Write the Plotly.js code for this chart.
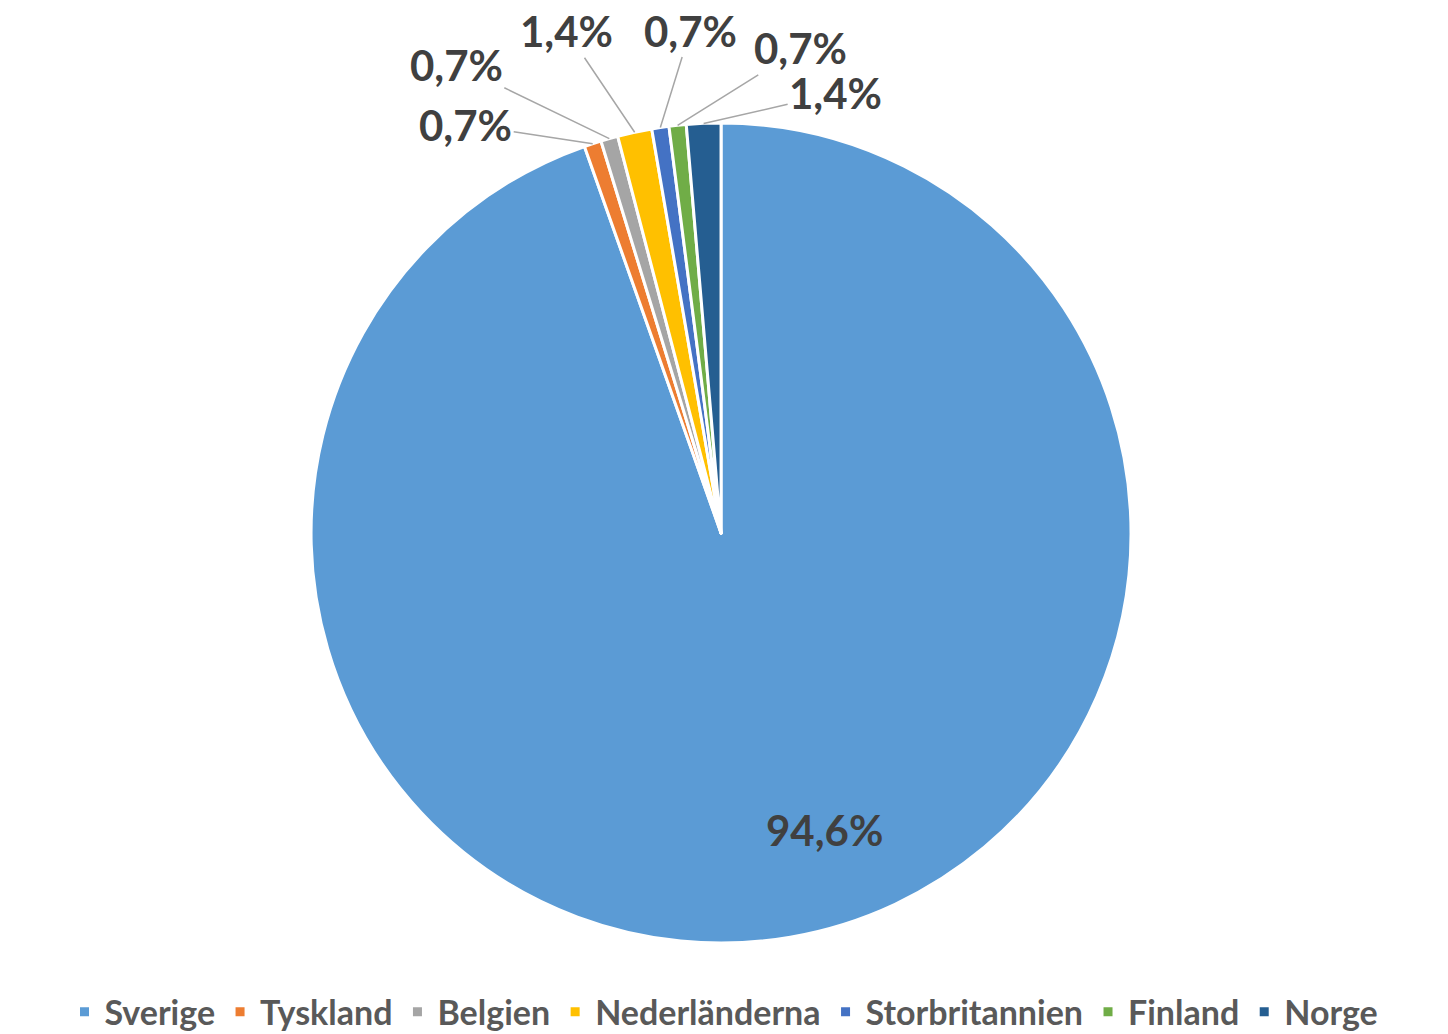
<!DOCTYPE html>
<html>
<head>
<meta charset="utf-8">
<script src="https://cdn.plot.ly/plotly-3.0.1.min.js"></script>
<style>html,body{margin:0;padding:0;background:#fff;}#chart{width:1448px;height:1034px;}</style>
</head>
<body>
<div id="chart"></div>
<script>
const countries = ['Sverige', 'Tyskland', 'Belgien', 'Nederländerna', 'Storbritannien', 'Finland', 'Norge'];
const counts = [140, 1, 1, 2, 1, 1, 2];
const colors = ['#5B9BD5', '#ED7D31', '#A5A5A5', '#FFC000', '#4472C4', '#70AD47', '#255E91'];
// label offsets (pixels) from each slice's rim midpoint, for the callout labels
const labelOffsetX = [50, -127, -153, -68, 30, 123, 132];
const labelOffsetY = [13, -19, -74, -101, -97, -77, -30];

const W = 1448, H = 1034;
const domX = [0.2148, 0.7811], domY = [0.088, 0.881];
const fontFam = 'Lato, "Open Sans", sans-serif';

const trace = {
  type: 'pie',
  labels: countries,
  values: counts,
  sort: false,
  direction: 'clockwise',
  rotation: 0,
  marker: {colors: colors, line: {color: '#ffffff', width: 3}},
  textinfo: 'none',
  domain: {x: domX, y: domY},
  hoverinfo: 'label+percent'
};

// compute label anchor points from the data (slice mid-angles on the pie rim)
const total = counts.reduce((a, b) => a + b, 0);
const cxPx = (domX[0] + domX[1]) / 2 * W;
const cyPx = (1 - (domY[0] + domY[1]) / 2) * H;
const rPx = Math.min((domX[1] - domX[0]) * W, (domY[1] - domY[0]) * H) / 2;
const fmt = v => (Math.round(v / total * 1000) / 10).toFixed(1).replace('.', ',') + '%';

const annotations = [];
let cum = 0;
counts.forEach((v, i) => {
  const mid = (cum + v / 2) / total * 2 * Math.PI;
  cum += v;
  const big = i === 0;
  const rr = big ? rPx * 0.77 : rPx;
  const px = cxPx + rr * Math.sin(mid);
  const py = cyPx - rr * Math.cos(mid);
  const ann = {
    xref: 'paper', yref: 'paper',
    x: px / W, y: 1 - py / H,
    text: fmt(v),
    font: {family: fontFam, size: 42, color: '#404040', weight: 'bold'}
  };
  if (big) {
    ann.showarrow = false;
    ann.xshift = labelOffsetX[i];
    ann.yshift = -labelOffsetY[i];
  } else {
    ann.showarrow = true;
    ann.arrowhead = 0;
    ann.arrowwidth = 1.5;
    ann.arrowcolor = '#A6A6A6';
    ann.ax = labelOffsetX[i];
    ann.ay = labelOffsetY[i];
    ann.standoff = 0;
  }
  annotations.push(ann);
});

const layout = {
  width: W,
  height: H,
  margin: {l: 0, r: 0, t: 0, b: 0, autoexpand: false},
  paper_bgcolor: '#ffffff',
  showlegend: true,
  annotations: annotations,
  legend: {
    orientation: 'h',
    x: 0.5, xanchor: 'center',
    y: -0.007, yanchor: 'bottom',
    font: {family: fontFam, size: 34, color: '#595959', weight: 'bold'},
    itemwidth: 30,
    traceorder: 'normal'
  }
};

Plotly.newPlot('chart', [trace], layout, {displayModeBar: false});
</script>
</body>
</html>
